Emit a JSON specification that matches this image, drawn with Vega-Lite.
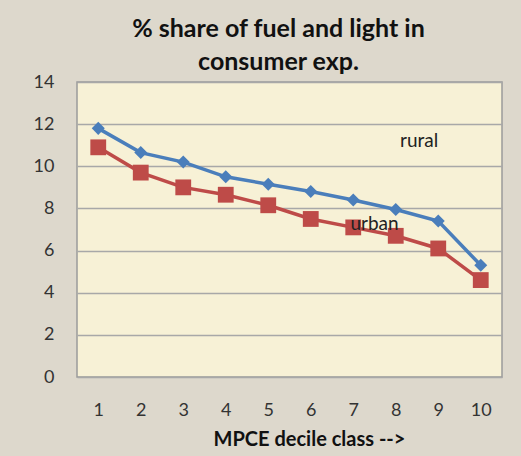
{
  "$schema": "https://vega.github.io/schema/vega-lite/v6.json",
  "width": 425,
  "height": 295,
  "autosize": {"type": "none"},
  "padding": {"left": 77, "top": 82, "right": 19, "bottom": 79},
  "background": "#ddd8cc",
  "config": {
    "font": "Lato",
    "view": {"fill": "#f7f1d6", "stroke": "#9a9a9a", "strokeWidth": 1.5}
  },
  "title": {
    "text": ["% share of fuel and light in", "consumer exp."],
    "fontSize": 25,
    "fontWeight": "bold",
    "font": "Lato",
    "color": "#111111",
    "lineHeight": 33,
    "anchor": "middle",
    "offset": 10,
    "dx": -11,
    "dy": 12
  },
  "datasets": {
    "series": [
      {"decile": 1, "area": "rural", "share": 11.8},
      {"decile": 2, "area": "rural", "share": 10.65},
      {"decile": 3, "area": "rural", "share": 10.2},
      {"decile": 4, "area": "rural", "share": 9.5},
      {"decile": 5, "area": "rural", "share": 9.15},
      {"decile": 6, "area": "rural", "share": 8.8},
      {"decile": 7, "area": "rural", "share": 8.4},
      {"decile": 8, "area": "rural", "share": 7.95},
      {"decile": 9, "area": "rural", "share": 7.4},
      {"decile": 10, "area": "rural", "share": 5.3},
      {"decile": 1, "area": "urban", "share": 10.9},
      {"decile": 2, "area": "urban", "share": 9.7},
      {"decile": 3, "area": "urban", "share": 9.0},
      {"decile": 4, "area": "urban", "share": 8.65},
      {"decile": 5, "area": "urban", "share": 8.15},
      {"decile": 6, "area": "urban", "share": 7.5},
      {"decile": 7, "area": "urban", "share": 7.1},
      {"decile": 8, "area": "urban", "share": 6.7},
      {"decile": 9, "area": "urban", "share": 6.1},
      {"decile": 10, "area": "urban", "share": 4.6}
    ],
    "labels": [
      {"x": 8.55, "y": 11.2, "label": "rural"},
      {"x": 7.5, "y": 7.25, "label": "urban"}
    ]
  },
  "layer": [
    {
      "data": {"name": "series"},
      "mark": {"type": "line", "strokeWidth": 3.5},
      "encoding": {
        "x": {
          "field": "decile",
          "type": "quantitative",
          "scale": {"domain": [0.5, 10.5], "nice": false, "zero": false},
          "axis": {
            "values": [1, 2, 3, 4, 5, 6, 7, 8, 9, 10],
            "grid": false,
            "domain": false,
            "ticks": false,
            "labelFontSize": 18,
            "labelColor": "#333333",
            "labelPadding": 24,
            "title": "MPCE decile class -->",
            "titleFontSize": 20,
            "titleFontWeight": "bold",
            "titleColor": "#111111",
            "titlePadding": 10,
            "titleX": 232
          }
        },
        "y": {
          "field": "share",
          "type": "quantitative",
          "scale": {"domain": [0, 14], "nice": false},
          "axis": {
            "values": [0, 2, 4, 6, 8, 10, 12, 14],
            "grid": true,
            "gridColor": "#a8a8a8",
            "gridWidth": 1.5,
            "domain": false,
            "ticks": false,
            "labelFontSize": 18,
            "labelColor": "#333333",
            "labelPadding": 23,
            "title": null
          }
        },
        "color": {
          "field": "area",
          "type": "nominal",
          "scale": {"domain": ["rural", "urban"], "range": ["#4a7ebb", "#be4b48"]},
          "legend": null
        }
      }
    },
    {
      "data": {"name": "series"},
      "mark": {"type": "point", "filled": true, "opacity": 1},
      "encoding": {
        "x": {"field": "decile", "type": "quantitative"},
        "y": {"field": "share", "type": "quantitative"},
        "color": {"field": "area", "type": "nominal", "legend": null},
        "shape": {
          "field": "area",
          "type": "nominal",
          "scale": {"domain": ["rural", "urban"], "range": ["diamond", "square"]},
          "legend": null
        },
        "size": {
          "field": "area",
          "type": "nominal",
          "scale": {"domain": ["rural", "urban"], "range": [170, 250]},
          "legend": null
        }
      }
    },
    {
      "data": {"name": "labels"},
      "mark": {"type": "text", "fontSize": 19, "color": "#222222", "font": "Lato"},
      "encoding": {
        "x": {"field": "x", "type": "quantitative"},
        "y": {"field": "y", "type": "quantitative"},
        "text": {"field": "label"}
      }
    }
  ]
}
